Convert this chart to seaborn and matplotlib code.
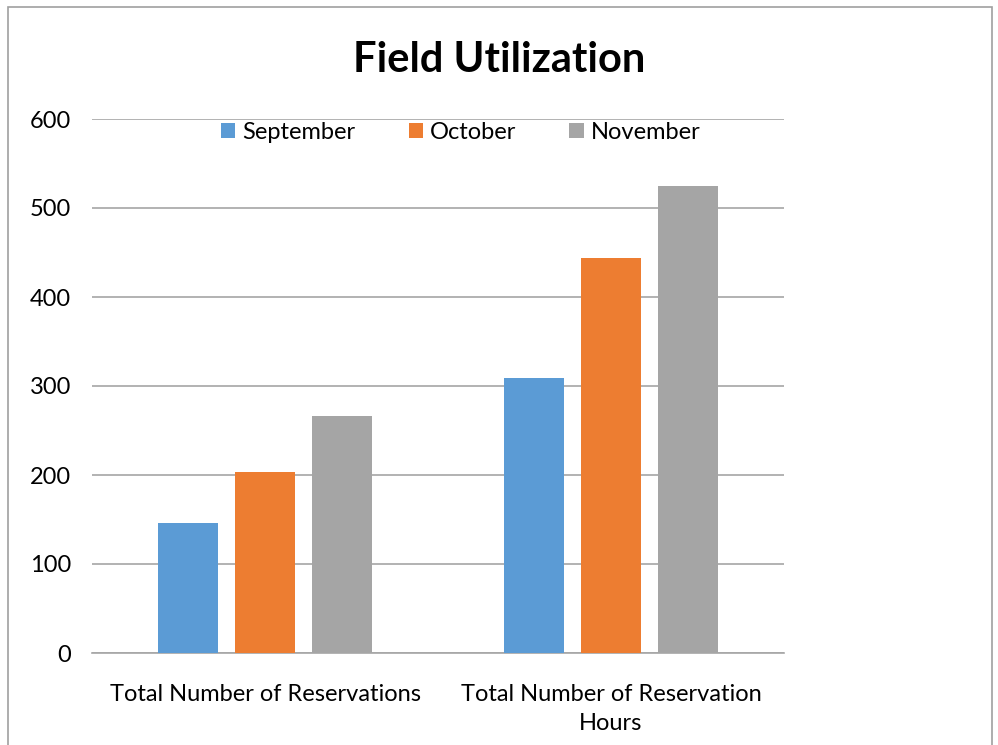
import pandas as pd
import matplotlib.pyplot as plt
import seaborn as sns
from matplotlib.patches import Rectangle

# Data
categories = ["Total Number of Reservations", "Total Number of Reservation\nHours"]
months = ["September", "October", "November"]
september = [146, 309]
october = [203, 444]
november = [266, 525]
colors = ["#5B9BD5", "#ED7D31", "#A5A5A5"]

sns.set_theme(style="white")
plt.rcParams['font.family'] = ['Lato', 'DejaVu Sans']
plt.rcParams['text.color'] = 'black'

rows = []
for month, vals in zip(months, [september, october, november]):
    for cat, v in zip(categories, vals):
        rows.append({"category": cat, "month": month, "value": v})
df = pd.DataFrame(rows)

fig = plt.figure(figsize=(9.98, 7.45), dpi=100)
ax = fig.add_axes([92 / 998, 1 - 653 / 745, 692 / 998, 534 / 745])

sns.barplot(data=df, x="category", y="value", hue="month", order=categories,
            hue_order=months, palette=colors, width=0.667, gap=0.21,
            saturation=1, linewidth=0, ax=ax, zorder=3)

ax.set_ylim(0, 600)
ax.set_yticks(range(0, 601, 100))
ax.set_xlim(-0.5, 1.5)
ax.yaxis.grid(True, color="#a6a6a6", linewidth=1.2, zorder=0)
ax.set_axisbelow(True)
for s in ["left", "right", "top"]:
    ax.spines[s].set_visible(False)
ax.spines["bottom"].set_color("#a6a6a6")
ax.spines["bottom"].set_linewidth(1.2)
ax.set_xlabel("")
ax.set_ylabel("")
ax.tick_params(axis="y", length=0, labelsize=17, pad=15, colors="black")
ax.tick_params(axis="x", length=0, labelsize=17, pad=22, colors="black")
for lbl in ax.get_xticklabels():
    lbl.set_multialignment("center")
    lbl.set_linespacing(1.5)

ax.legend(loc="upper center", bbox_to_anchor=(0.533, 1.035), ncol=3, frameon=False,
          fontsize=17, handlelength=0.6, handleheight=0.6, handletextpad=0.3,
          columnspacing=2.25, labelcolor="black")

fig.text(0.5, 1 - 60 / 745, "Field Utilization", ha="center", va="center",
         fontsize=30, fontweight="bold", color="black")

fig.patches.append(Rectangle((8 / 998, -0.1), 984 / 998, 1.1 - 7 / 745,
                             transform=fig.transFigure, fill=False,
                             edgecolor="#a0a0a0", linewidth=1.2))

fig.savefig("out.png", dpi=100)
